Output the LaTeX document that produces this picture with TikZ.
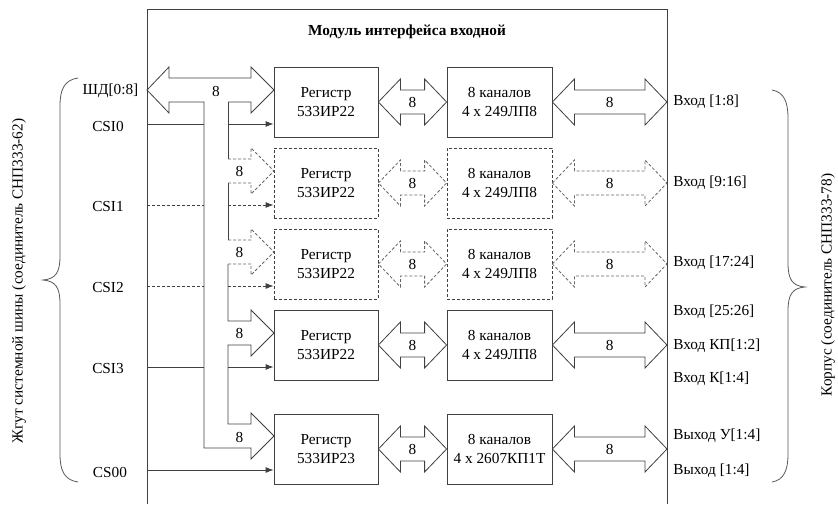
\documentclass[tikz,border=0pt]{standalone}
\usepackage{fontspec}
\setmainfont{LiberationSerif}[Extension=.ttf,UprightFont=*-Regular,BoldFont=*-Bold,ItalicFont=*-Italic,BoldItalicFont=*-BoldItalic]
\usetikzlibrary{calc,arrows.meta}
\newcommand\dgmfont{\fontsize{15.3}{19}\selectfont}
% double block arrow between two points at the same height
\newcommand\blockarrow[3][]{%
  \draw[ink,#1] let \p1=#2, \p2=#3 in
    (\x1,\y1) -- (\x1+22pt,\y1+23pt) -- (\x1+22pt,\y1+12pt)
    -- (\x2-22pt,\y1+12pt) -- (\x2-22pt,\y1+23pt) -- (\x2,\y1)
    -- (\x2-22pt,\y1-23pt) -- (\x2-22pt,\y1-12pt)
    -- (\x1+22pt,\y1-12pt) -- (\x1+22pt,\y1-23pt) -- cycle;}
\begin{document}
\begin{tikzpicture}[x=1pt,y=-1pt,line width=0.8pt,
  ink/.style={draw=black!75},
  faint/.style={draw=black!60,dash pattern=on 3pt off 2pt},
  dashedbox/.style={dash pattern=on 3pt off 2pt},
  regbox/.style={ink,minimum width=104pt,minimum height=70pt,align=center,inner sep=0pt,font=\dgmfont},
  chbox/.style={ink,minimum width=105pt,minimum height=70pt,align=center,inner sep=0pt,font=\dgmfont},
  lbl/.style={font=\dgmfont,inner sep=0pt},
  pin/.style={ink,-{Latex[length=8pt,width=6pt]}},
  brace/.style={draw=black!65,line width=0.8pt}]
\useasboundingbox (0,0) rectangle (838,504);

% module frame (open at the bottom)
\coordinate (fL) at (147,0);
\coordinate (fR) at (667,0);
\coordinate (busL) at (204,0);
\coordinate (busR) at (228,0);
\draw[ink] (147,504) -- (147,9) -- (667,9) -- (667,504);
\node[font=\dgmfont\bfseries] (title) at (407,32) {Модуль интерфейса входной};

% registers and channel blocks
\node[regbox] (reg1) at (326,102) {Регистр\\533ИР22};
\node[regbox,dashedbox] (reg2) at (326,183) {Регистр\\533ИР22};
\node[regbox,dashedbox] (reg3) at (326,264) {Регистр\\533ИР22};
\node[regbox] (reg4) at (326,345) {Регистр\\533ИР22};
\node[regbox] (reg5) at (326,449) {Регистр\\533ИР23};
\node[chbox] (ch1) at (499.5,102) {8 каналов\\4 х 249ЛП8};
\node[chbox,dashedbox] (ch2) at (499.5,183) {8 каналов\\4 х 249ЛП8};
\node[chbox,dashedbox] (ch3) at (499.5,264) {8 каналов\\4 х 249ЛП8};
\node[chbox] (ch4) at (499.5,345) {8 каналов\\4 х 249ЛП8};
\node[chbox] (ch5) at (499.5,449) {8 каналов\\4 х 2607КП1Т};

% data bus ШД with branches to the registers
\draw[ink] (228,102) -- (251,102) -- (251,113) -- (274,90) -- (251,67) -- (251,78)
  -- (169,78) -- (169,67) -- (147,90) -- (169,113) -- (169,102) -- (204,102)
  -- (204,448) -- (251,448) -- (251,459) -- (274,436) -- (251,413) -- (251,424)
  -- (228,424) -- (228,345) -- (251,345) -- (251,356) -- (274,333) -- (251,310)
  -- (251,321) -- (228,321) -- (228,264);
\draw[ink] (228,240) -- (228,183);
\draw[ink] (228,159) -- (228,102);
\draw[faint] (228,264) -- (251,264) -- (251,275) -- (274,252) -- (251,229) -- (251,240) -- (228,240);
\draw[faint] (228,183) -- (251,183) -- (251,194) -- (274,171) -- (251,148) -- (251,159) -- (228,159);
\node[lbl] at (216,91) {8};
\node[lbl] at (239.5,171) {8};
\node[lbl] at (239.5,252) {8};
\node[lbl] at (239.5,333) {8};
\node[lbl] at (239.5,437) {8};

% arrows register -> channels -> connector
\foreach \i in {1,4,5}{
  \blockarrow{(reg\i.east)}{(ch\i.west)}
  \blockarrow{(ch\i.east)}{(ch\i.east -| fR)}
  \node[lbl] at ($(reg\i.east)!0.5!(ch\i.west)$) {8};
  \node[lbl] at ($(ch\i.east)!0.5!(ch\i.east -| fR)$) {8};
}
\foreach \i in {2,3}{
  \blockarrow[faint]{(reg\i.east)}{(ch\i.west)}
  \blockarrow[faint]{(ch\i.east)}{(ch\i.east -| fR)}
  \node[lbl] at ($(reg\i.east)!0.5!(ch\i.west)$) {8};
  \node[lbl] at ($(ch\i.east)!0.5!(ch\i.east -| fR)$) {8};
}

% chip select lines
\coordinate (cs1) at (147,124);
\coordinate (cs2) at (147,205);
\coordinate (cs3) at (147,286);
\coordinate (cs4) at (147,367);
\coordinate (cs5) at (147,470);
\draw[ink] (cs1) -- (cs1 -| busL);
\draw[pin] (cs1 -| busR) -- (cs1 -| reg1.west);
\draw[ink,dashedbox] (cs2) -- (cs2 -| busL);
\draw[pin,dashedbox] (cs2 -| busR) -- (cs2 -| reg2.west);
\draw[ink,dashedbox] (cs3) -- (cs3 -| busL);
\draw[pin,dashedbox] (cs3 -| busR) -- (cs3 -| reg3.west);
\draw[ink] (cs4) -- (cs4 -| busL);
\draw[pin] (cs4 -| busR) -- (cs4 -| reg4.west);
\draw[pin] (cs5) -- (cs5 -| reg5.west);

% left side signal names
\node[lbl] (nbus) at (110.5,91) {ШД[0:8]};
\node[lbl] (n1) at (108,126) {CSI0};
\node[lbl] (n2) at (108,207) {CSI1};
\node[lbl] (n3) at (108,288) {CSI2};
\node[lbl] (n4) at (108,369) {CSI3};
\node[lbl] (n5) at (110,472) {CS00};

% right side signal names
\node[lbl,anchor=west] at (673,102) {Вход [1:8]};
\node[lbl,anchor=west] at (673,183) {Вход [9:16]};
\node[lbl,anchor=west] at (673,263) {Вход [17:24]};
\node[lbl,anchor=west] at (673,312) {Вход [25:26]};
\node[lbl,anchor=west] at (673,346) {Вход КП[1:2]};
\node[lbl,anchor=west] at (673,379) {Вход К[1:4]};
\node[lbl,anchor=west] at (673,436) {Выход У[1:4]};
\node[lbl,anchor=west] at (673,471) {Выход [1:4]};

% braces and connector names
\draw[brace] (78,78) .. controls (64,80) and (60,90) .. (60,106) -- (60,256)
  .. controls (60,272) and (56,279) .. (43,280)
  .. controls (56,281) and (60,288) .. (60,304) -- (60,454)
  .. controls (60,470) and (64,480) .. (78,482);
\draw[brace] (772,90) .. controls (784,92) and (788,102) .. (788,118) -- (788,263)
  .. controls (788,279) and (792,286) .. (805,287)
  .. controls (792,288) and (788,295) .. (788,311) -- (788,454)
  .. controls (788,470) and (784,480) .. (772,482);
\node[lbl,rotate=90] (leftconn) at (19,281) {Жгут системной шины (соединитель СНП333-62)};
\node[lbl,rotate=90] (rightconn) at (828,285) {Корпус (соединитель СНП333-78)};
\end{tikzpicture}
\end{document}
